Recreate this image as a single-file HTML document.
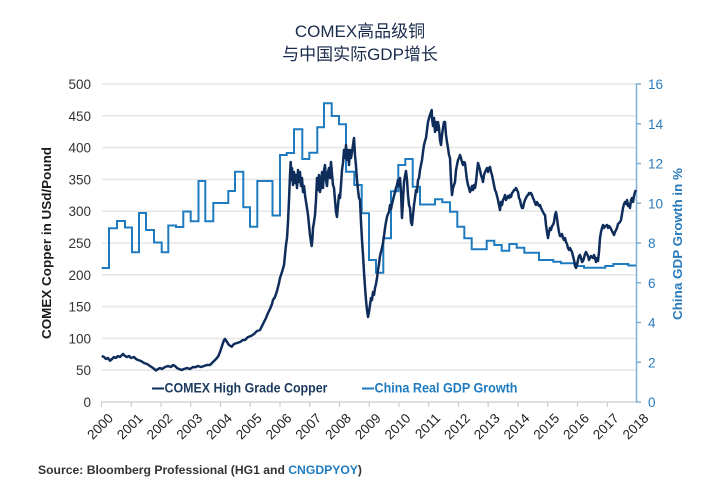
<!DOCTYPE html>
<html><head><meta charset="utf-8"><style>
html,body{margin:0;padding:0;background:#fff;}
svg{display:block;}
text{font-family:"Liberation Sans","Noto Sans CJK SC",sans-serif;}
</style></head><body>
<svg width="720" height="500" viewBox="0 0 720 500" xmlns="http://www.w3.org/2000/svg">
<rect width="720" height="500" fill="#fff"/>
<text x="360" y="37" text-anchor="middle" font-size="17" fill="#1a2b4c">COMEX高品级铜</text>
<text x="360" y="60" text-anchor="middle" font-size="17" fill="#1a2b4c">与中国实际GDP增长</text>
<g stroke="#e6e6e6" stroke-width="1.6">
<line x1="102" y1="84" x2="636" y2="84"/><line x1="102" y1="115.8" x2="636" y2="115.8"/><line x1="102" y1="147.6" x2="636" y2="147.6"/><line x1="102" y1="179.4" x2="636" y2="179.4"/><line x1="102" y1="211.2" x2="636" y2="211.2"/><line x1="102" y1="243" x2="636" y2="243"/><line x1="102" y1="274.8" x2="636" y2="274.8"/><line x1="102" y1="306.6" x2="636" y2="306.6"/><line x1="102" y1="338.4" x2="636" y2="338.4"/><line x1="102" y1="370.2" x2="636" y2="370.2"/>
</g>
<g stroke="#cccccc" stroke-width="1.2">
<line x1="101" y1="402" x2="636" y2="402"/>
<line x1="101.5" y1="402" x2="101.5" y2="407"/><line x1="131.2" y1="402" x2="131.2" y2="407"/><line x1="161" y1="402" x2="161" y2="407"/><line x1="190.7" y1="402" x2="190.7" y2="407"/><line x1="220.5" y1="402" x2="220.5" y2="407"/><line x1="250.2" y1="402" x2="250.2" y2="407"/><line x1="280" y1="402" x2="280" y2="407"/><line x1="309.7" y1="402" x2="309.7" y2="407"/><line x1="339.5" y1="402" x2="339.5" y2="407"/><line x1="369.2" y1="402" x2="369.2" y2="407"/><line x1="399" y1="402" x2="399" y2="407"/><line x1="428.7" y1="402" x2="428.7" y2="407"/><line x1="458.5" y1="402" x2="458.5" y2="407"/><line x1="488.2" y1="402" x2="488.2" y2="407"/><line x1="518" y1="402" x2="518" y2="407"/><line x1="547.7" y1="402" x2="547.7" y2="407"/><line x1="577.5" y1="402" x2="577.5" y2="407"/><line x1="607.2" y1="402" x2="607.2" y2="407"/>
</g>
<g stroke="#7fb0d6" stroke-width="1.5">
<line x1="636.5" y1="84" x2="636.5" y2="402"/>
<line x1="636" y1="84" x2="641" y2="84"/><line x1="636" y1="123.75" x2="641" y2="123.75"/><line x1="636" y1="163.5" x2="641" y2="163.5"/><line x1="636" y1="203.25" x2="641" y2="203.25"/><line x1="636" y1="243" x2="641" y2="243"/><line x1="636" y1="282.75" x2="641" y2="282.75"/><line x1="636" y1="322.5" x2="641" y2="322.5"/><line x1="636" y1="362.25" x2="641" y2="362.25"/><line x1="636" y1="402" x2="641" y2="402"/>
</g>
<g font-size="13.5" fill="#333" text-anchor="end">
<text x="91" y="89">500</text><text x="91" y="120.8">450</text><text x="91" y="152.6">400</text><text x="91" y="184.4">350</text><text x="91" y="216.2">300</text><text x="91" y="248">250</text><text x="91" y="279.8">200</text><text x="91" y="311.6">150</text><text x="91" y="343.4">100</text><text x="91" y="375.2">50</text><text x="91" y="407">0</text>
</g>
<g font-size="13.5" fill="#2a7bbd">
<text x="648" y="89">16</text><text x="648" y="128.75">14</text><text x="648" y="168.5">12</text><text x="648" y="208.25">10</text><text x="648" y="248">8</text><text x="648" y="287.75">6</text><text x="648" y="327.5">4</text><text x="648" y="367.25">2</text><text x="648" y="407">0</text>
</g>
<text x="51" y="243" transform="rotate(-90 51 243)" text-anchor="middle" font-size="13" font-weight="bold" fill="#1a1a1a" textLength="192" lengthAdjust="spacingAndGlyphs">COMEX Copper in USd/Pound</text>
<text x="682" y="244" transform="rotate(-90 682 244)" text-anchor="middle" font-size="13" font-weight="bold" fill="#2a7bbd" textLength="152" lengthAdjust="spacingAndGlyphs">China GDP Growth in %</text>
<g font-size="13.5" fill="#222" text-anchor="end">
<text transform="translate(114 419) rotate(-45)">2000</text>
<text transform="translate(143.7 419) rotate(-45)">2001</text>
<text transform="translate(173.5 419) rotate(-45)">2002</text>
<text transform="translate(203.2 419) rotate(-45)">2003</text>
<text transform="translate(233 419) rotate(-45)">2004</text>
<text transform="translate(262.7 419) rotate(-45)">2005</text>
<text transform="translate(292.5 419) rotate(-45)">2006</text>
<text transform="translate(322.2 419) rotate(-45)">2007</text>
<text transform="translate(352 419) rotate(-45)">2008</text>
<text transform="translate(381.7 419) rotate(-45)">2009</text>
<text transform="translate(411.5 419) rotate(-45)">2010</text>
<text transform="translate(441.2 419) rotate(-45)">2011</text>
<text transform="translate(471 419) rotate(-45)">2012</text>
<text transform="translate(500.7 419) rotate(-45)">2013</text>
<text transform="translate(530.5 419) rotate(-45)">2014</text>
<text transform="translate(560.2 419) rotate(-45)">2015</text>
<text transform="translate(590 419) rotate(-45)">2016</text>
<text transform="translate(619.7 419) rotate(-45)">2017</text>
<text transform="translate(649.5 419) rotate(-45)">2018</text>
</g>
<polyline fill="none" stroke="#1f7bbf" stroke-width="2" stroke-linejoin="miter" points="101.7,268 109,268 109,228.3 117,228.3 117,221 125,221 125,227.5 132,227.5 132,252.3 139,252.3 139,213 146,213 146,230 154,230 154,242.5 161.7,242.5 161.7,252.3 168.3,252.3 168.3,225.5 176,225.5 176,227 183.3,227 183.3,211.5 190.7,211.5 190.7,221.3 198.5,221.3 198.5,181 205.3,181 205.3,221.3 213.3,221.3 213.3,203 228.3,203 228.3,191 235,191 235,171.7 243.3,171.7 243.3,207.3 250,207.3 250,226.7 257.3,226.7 257.3,181 272.5,181 272.5,215.5 280,215.5 280,155 286.7,155 286.7,153 294,153 294,129.3 302.3,129.3 302.3,159 309.3,159 309.3,152.7 317.3,152.7 317.3,127.3 324,127.3 324,103.3 331.7,103.3 331.7,116 339,116 339,124.3 346,124.3 346,171.7 354.3,171.7 354.3,185 361.7,185 361.7,213.3 369,213.3 369,260 376,260 376,272.7 383.3,272.7 383.3,238.3 391,238.3 391,191.3 398.3,191.3 398.3,165 405.3,165 405.3,159 412.7,159 412.7,186.7 420,186.7 420,204.5 435,204.5 435,199.3 442.3,199.3 442.3,202.3 450,202.3 450,211.7 457.3,211.7 457.3,226.7 464.3,226.7 464.3,238.3 471.7,238.3 471.7,249.3 486.7,249.3 486.7,240.7 494.3,240.7 494.3,245 501.7,245 501.7,250.7 509.3,250.7 509.3,244 516.7,244 516.7,247.7 524.3,247.7 524.3,252.7 539,252.7 539,260 553.3,260 553.3,261.7 561,261.7 561,263.3 576.7,263.3 576.7,266 584,266 584,267.7 605.3,267.7 605.3,266 613.3,266 613.3,264 628.3,264 628.3,265.5 636,265.5"/>
<polyline fill="none" stroke="#0e2d5a" stroke-width="2.5" stroke-linejoin="round" points="101.7,356 104,357 106,359 108,358 110,360.7 112,359 114,357 116,358 118,356 120,357 123,354 125,356 127,357 129,356 131,358 134,357 136,359 138,360 141,361 144,363 147,364 150,366 153,368 156,370.5 158,369 160,368 162,369 165,367 168,366 171,367 173,365 175,366 177,368 179,369 181.7,370 184,369 187,368 190,369 193,367 195,367.3 198,366 201,367 204,366 207,365 210,365 213,362 216,359 218,356.7 220,352 222,346 224,340 225,339 227,342 229,345 231.7,346.7 234,344 237,343 240,342 243,340 245,340 248,337 251,336 254,334 257,331 260,330 262,326 264,322 266,318 268,313 270,309 272,304 273,300 275,297 277,291 279,283 280,278 282,272 284,265 285,255 286,245 287,238 288,222 289,200 290,175 290.7,162 291.5,180 292,168 293,185 294,172 295,183 296,175 297,188 298,170 299,182 300,172 301,186 302,178 303,192 304,186 305,195 306,202 307,208 308,215 309,225 310,235 311,242 311.7,246 312.5,238 313,228 314,222 315,215 316,200 317,178 318,190 319,175 320,192 321,186 322,172 323,188 324,170 325,165 326,180 327,186 328,172 329,168 330,178 331,162 332,174 333,185 334,188 335,200 336,212 337,217 338,205 339,195 340,198 341,185 342,170 343,163 344,150 345,158 346,145 347,160 348,150 349,165 350,150 351,158 352,152 353,145 354,138 355,155 356,166 357,180 358,190 359,198 360,200 361,222 362,240 363,255 364,272 365,287 366,300 367,310 368,317 369,312 370,305 371,298 372,300 373,292 374,295 375,288 376,284 377,278 378,270 379,264 380,256 381,252 382,248 383,243 384,236 385,228 386,222 387,217 388,214 389,212 390,205 391,209 392,204 393,200 394,196 395,192 396,188 397,185 398,180 399,186 400,178 401,192 402,218 403,200 404,182 405,176 406,171 407,180 408,195 409,205 410,208 411,222 412,225 413,215 414,205 415,198 416,190 417,192 418,180 419,178 420,170 421,165 422,160 423,152 424,145 425,141 426,138 427,130 428,122 429,118 430,115 431,112 431.7,110 432,118 433,126 434,118 435,132 436,122 437,130 438,122 439,128 440,140 441,145 442,135 443,128 444,122 445,122 446,135 447,142 448,148 449,155 450,158 451,180 452,195 453,188 454,185 455,182 456,170 457,165 458,160 459,158 460,155 461,158 462,162 463,165 464,162 465,163 466,172 467,180 468,185 469,188 470,192 471,190 472,186 473,190 474,185 475,188 476,182 477,172 478,163 479,166 480,170 481,175 482,178 483,182 484,175 485,172 486,170 487,168 488,172 489,168 490,167 491,172 492,175 493,180 494,185 495,190 496,192 497,196 498,200 499,205 500,210 501,202 502,205 503,200 504,198 505,195 506,200 507,198 508,196 509,198 510,195 511,197 512,193 513,192 514,190 515,190 516,188 517,190 518,192 519,198 520,200 521,205 522,208 523,208 524,203 525,200 526,198 527,196 528,195 529,193 530,194 531,193 532,195 533,198 534,200 535,203 536,205 537,202 538,204 539,206 540,205 541,208 542,210 543,212 544,214 545,215 546,225 547,232 548,238 549,232 550,228 551,230 552,226 553,225 554,222 555,215 556,212 557,218 558,226 559,232 560,236 561,236 562,234 563,238 564,240 565,238 566,242 567,244 568,248 569,250 570,248 571,250 572,252 573,256 574,260 575,266 576,268 577,265 578,260 579,256 580,255 581,258 582,262 583,261 584,258 585,254 586,252 587,254 588,256 589,260 590,258 591,256 592,257 593,258 594,255 595,258 596,262 597,258 598,261 599,252 600,238 601,232 602,228 603,225 604,228 605,226 606,226 607,225 608,228 609,226 610,227 611,229 612,231 613,233 614,235 615,232 616,230 617,228 618,224 619,223 620,222 621,220 622,214 623,208 624,204 625,202 626,204 627,200 628,206 629,204 630,208 631,200 632,198 633,202 634,196 635,192 636,190"/>
<line x1="152" y1="388.5" x2="164" y2="388.5" stroke="#0e2d5a" stroke-width="2"/>
<text x="164.5" y="392.5" font-size="13.5" font-weight="bold" fill="#1b3a5e" textLength="163" lengthAdjust="spacingAndGlyphs">COMEX High Grade Copper</text>
<line x1="362" y1="388.5" x2="374" y2="388.5" stroke="#1f7bbf" stroke-width="2"/>
<text x="374.5" y="392.5" font-size="13.5" font-weight="bold" fill="#1f7bbf" textLength="143" lengthAdjust="spacingAndGlyphs">China Real GDP Growth</text>
<text x="38" y="474" font-size="12" font-weight="bold" fill="#333" textLength="324" lengthAdjust="spacingAndGlyphs">Source: Bloomberg Professional (HG1 and <tspan fill="#1f7bbf">CNGDPYOY</tspan>)</text>
</svg>
</body></html>
